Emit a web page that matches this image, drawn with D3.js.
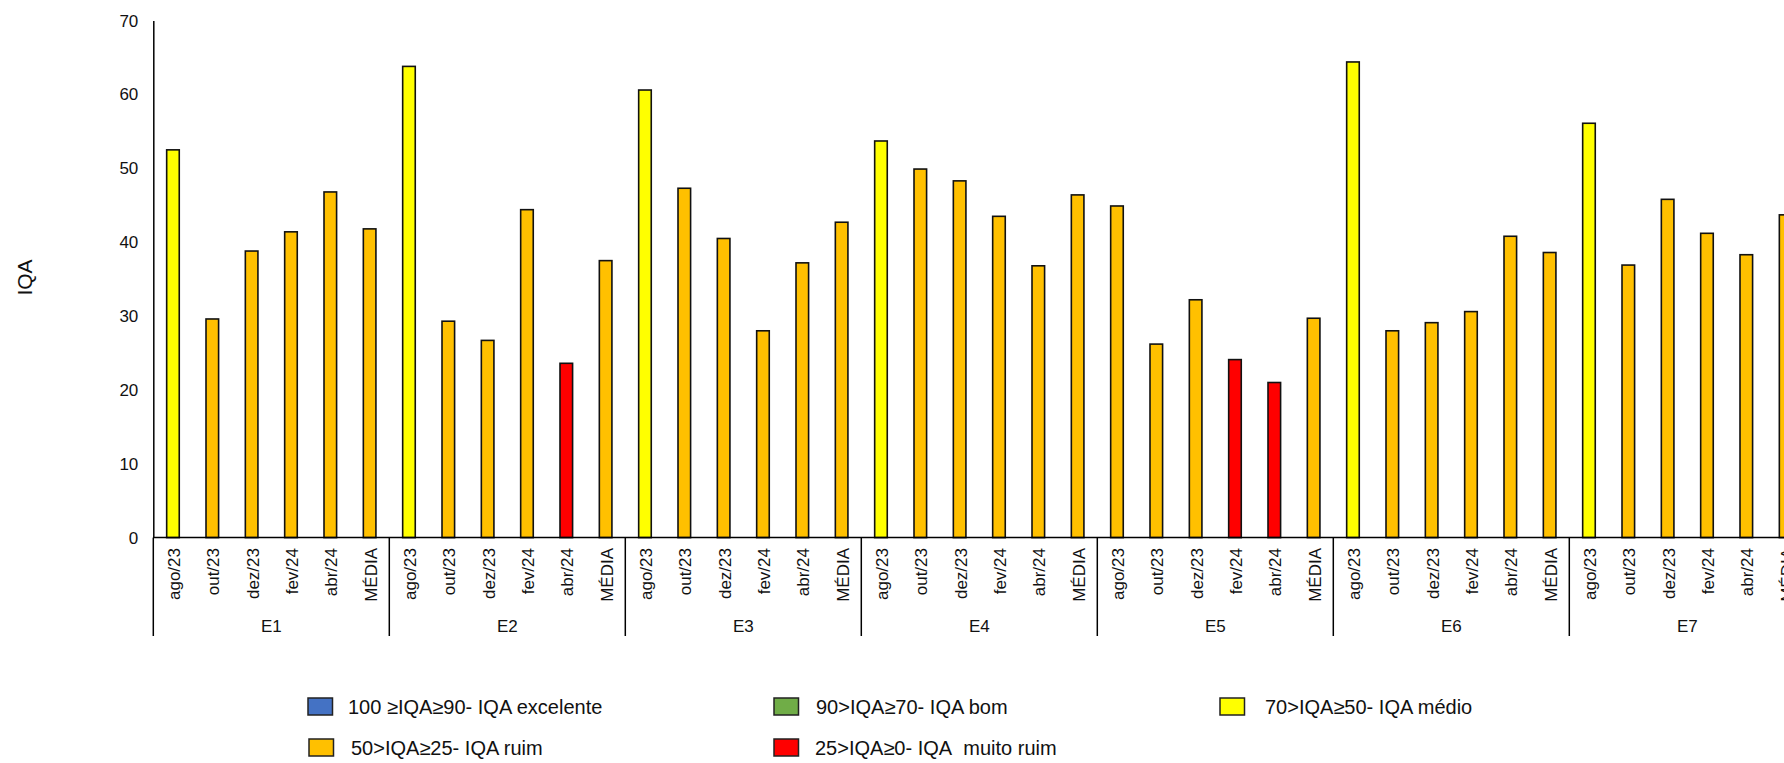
<!DOCTYPE html>
<html>
<head>
<meta charset="utf-8">
<script src="https://cdn.jsdelivr.net/npm/d3@7"></script>
<style>
  html, body { margin: 0; padding: 0; background: #ffffff; }
  svg { display: block; font-family: "Liberation Sans", Arial, sans-serif; }
</style>
</head>
<body>
<svg id="chart" width="1784" height="763"></svg>
<script>
// ---- data ----
const stations = ["E1", "E2", "E3", "E4", "E5", "E6", "E7"];
const periods = ["ago/23", "out/23", "dez/23", "fev/24", "abr/24", "MÉDIA"];
const valuesE1 = [52.5, 29.6, 38.8, 41.4, 46.8, 41.8];
const valuesE2 = [63.8, 29.3, 26.7, 44.4, 23.6, 37.5];
const valuesE3 = [60.6, 47.3, 40.5, 28.0, 37.2, 42.7];
const valuesE4 = [53.7, 49.9, 48.3, 43.5, 36.8, 46.4];
const valuesE5 = [44.9, 26.2, 32.2, 24.1, 21.0, 29.7];
const valuesE6 = [64.4, 28.0, 29.1, 30.6, 40.8, 38.6];
const valuesE7 = [56.1, 36.9, 45.8, 41.2, 38.3, 43.7];
const yTicks = [0, 10, 20, 30, 40, 50, 60, 70];
const classBreaks = [25, 50, 70, 90];
const classColors = ["#FF0000", "#FFC000", "#FFFF00", "#70AD47", "#4472C4"];
const legendLabels = [
  "100 ≥IQA≥90- IQA excelente",
  "90>IQA≥70- IQA bom",
  "70>IQA≥50- IQA médio",
  "50>IQA≥25- IQA ruim",
  "25>IQA≥0- IQA\u00a0\u00a0muito ruim"
];
const legendColors = ["#4472C4", "#70AD47", "#FFFF00", "#FFC000", "#FF0000"];

const seriesByStation = [valuesE1, valuesE2, valuesE3, valuesE4, valuesE5, valuesE6, valuesE7];
const rows = [];
stations.forEach((s, i) => periods.forEach((p, j) => rows.push({ station: s, period: p, value: seriesByStation[i][j] })));

// ---- layout ----
const svg = d3.select("#chart");
svg.append("rect").attr("width", 1784).attr("height", 763).attr("fill", "#fff");

const x0Start = 153.3, groupW = 236;
const x0 = d3.scaleBand().domain(stations).range([x0Start, x0Start + groupW * stations.length]).padding(0);
const x1 = d3.scaleBand().domain(periods).range([0, x0.bandwidth()]).paddingInner(0.68).paddingOuter(0.34);
const y = d3.scaleLinear().domain([0, 70]).range([537.6, 20.6]);
const color = d3.scaleThreshold().domain(classBreaks).range(classColors);

// bars
svg.append("g").selectAll("rect").data(rows).join("rect")
  .attr("x", d => x0(d.station) + x1(d.period))
  .attr("y", d => y(d.value))
  .attr("width", x1.bandwidth())
  .attr("height", d => y(0) - y(d.value))
  .attr("fill", d => color(d.value))
  .attr("stroke", "#111")
  .attr("stroke-width", 1.6);

// y axis
const yAxis = svg.append("g").attr("transform", `translate(${x0Start},0)`)
  .call(d3.axisLeft(y).tickValues(yTicks).tickSize(0).tickPadding(15).tickFormat(d3.format("d")));
yAxis.select(".domain").attr("stroke", "#000").attr("stroke-width", 1.5);
yAxis.selectAll("text").attr("font-size", 17).attr("fill", "#111")
  .attr("font-family", '"Liberation Sans", Arial, sans-serif');

// zero line
svg.append("line").attr("x1", x0Start).attr("x2", 1784).attr("y1", y(0)).attr("y2", y(0))
  .attr("stroke", "#000").attr("stroke-width", 1.5);

// group separators
svg.append("g").selectAll("line").data(stations).join("line")
  .attr("x1", d => x0(d)).attr("x2", d => x0(d))
  .attr("y1", y(0)).attr("y2", 636)
  .attr("stroke", "#000").attr("stroke-width", 1.5);

// category labels
svg.append("g").selectAll("text").data(rows).join("text")
  .attr("transform", d => `translate(${x0(d.station) + x1(d.period) + x1.bandwidth() / 2 + 1},548) rotate(-90)`)
  .attr("text-anchor", "end")
  .attr("dy", "0.35em")
  .attr("font-size", 17)
  .attr("fill", "#111")
  .text(d => d.period);

// group labels
svg.append("g").selectAll("text").data(stations).join("text")
  .attr("x", d => x0(d) + x0.bandwidth() / 2)
  .attr("y", 632)
  .attr("text-anchor", "middle")
  .attr("font-size", 17)
  .attr("fill", "#111")
  .text(d => d);

// y title
svg.append("text")
  .attr("transform", "translate(25,277.5) rotate(-90)")
  .attr("text-anchor", "middle")
  .attr("dy", "0.35em")
  .attr("font-size", 21)
  .attr("fill", "#111")
  .text("IQA");

// legend
const legendPos = [
  { bx: 308, tx: 348, y: 706.5 },
  { bx: 774, tx: 816, y: 706.5 },
  { bx: 1220, tx: 1265, y: 706.5 },
  { bx: 309, tx: 351, y: 747.5 },
  { bx: 774, tx: 815, y: 747.5 }
];
const lg = svg.append("g").selectAll("g").data(legendLabels).join("g");
lg.append("rect")
  .attr("x", (d, i) => legendPos[i].bx)
  .attr("y", (d, i) => legendPos[i].y - 8.5)
  .attr("width", 24.5).attr("height", 17)
  .attr("fill", (d, i) => legendColors[i])
  .attr("stroke", "#222").attr("stroke-width", 1.5);
lg.append("text")
  .attr("x", (d, i) => legendPos[i].tx)
  .attr("y", (d, i) => legendPos[i].y)
  .attr("dy", "0.35em")
  .attr("font-size", 20)
  .attr("fill", "#111")
  .text(d => d);
</script>
</body>
</html>
